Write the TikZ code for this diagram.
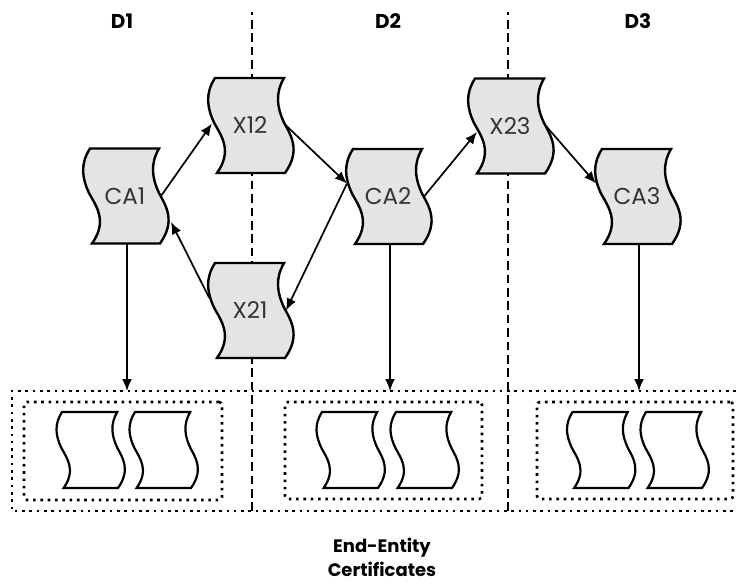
\documentclass[tikz,border=0pt]{standalone}
\usepackage{fontspec}
\setmainfont{Poppins}
\usetikzlibrary{arrows.meta}
\definecolor{sheetgray}{HTML}{E4E4E4}
\definecolor{labelgray}{HTML}{333333}

\tikzset{
    pics/sheet/.style={code={
        \draw[pic actions] (-35,-47.5) .. controls (-45,-32) and (-43,-18) .. (-36,-3)
            .. controls (-29,10) and (-17,25) .. (-33,47.5) -- (35,47.5)
            .. controls (51,25) and (41,10) .. (34,-3)
            .. controls (27,-18) and (25,-32) .. (34,-47.5) -- cycle;
        \node (-box) [sheetlabel] {#1};
        \coordinate (-e) at (36,0);
        \coordinate (-w) at (-38,-2);
        \coordinate (-wu) at (-41,-13);
        \coordinate (-wl) at (-33,6);
        \coordinate (-eb) at (46,26);
        \coordinate (-s) at (2,47.5);
    }},
    pics/sheet/.default={}
}

\begin{document}
\begin{tikzpicture}[
    x=1pt, y=-1pt,
    sheetlabel/.style={inner sep=0pt, font=\fontsize{23}{27}\selectfont, text=labelgray},
    casheet/.style={draw=black, fill=sheetgray, line width=2.4pt},
    leafsheet/.style={draw=black, fill=white, line width=2.2pt, scale=0.8},
    domlabel/.style={inner sep=0pt, font=\fontsize{20}{24}\selectfont\bfseries},
    divider/.style={draw=black, line width=2.7pt, dash pattern=on 8.6pt off 4.8pt, dash phase=5.4pt},
    dotbox/.style={draw=black, line width=2.6pt, dash pattern=on 2.6pt off 4.7pt, inner sep=0pt},
    link/.style={draw=black, line width=1.7pt, -{Latex[length=12pt,width=10pt]}}
]
\useasboundingbox (0,0) rectangle (738,583);

% domains
\node (d1) [domlabel] at (122,21) {D1};
\node (d2) [domlabel] at (388,21) {D2};
\node (d3) [domlabel] at (638,21) {D3};
\coordinate (top1) at (252,12);
\coordinate (top2) at (508,12);
\coordinate (bot1) at (252,511);
\coordinate (bot2) at (508,511);
\draw[divider] (top1) -- (bot1);
\draw[divider] (top2) -- (bot2);

% dotted boxes
\coordinate (outerne) at (736,391);
\coordinate (outernw) at (12,391);
\coordinate (outersw) at (12,511);
\coordinate (outerse) at (736,511);
\draw[dotbox] (outerne) -- (outernw) -- (outersw) -- (outerse);
\node (group1) [dotbox, rounded corners=3pt, minimum width=198pt, minimum height=98pt] at (123,451) {};
\node (group2) [dotbox, rounded corners=3pt, minimum width=197pt, minimum height=97pt] at (383.5,450.5) {};
\node (group3) [dotbox, rounded corners=3pt, minimum width=196pt, minimum height=97pt] at (635,450.5) {};

% certificates
\pic (ca1) [casheet] at (125,196) {sheet=CA1};
\pic (ca2) [casheet] at (388,196.5) {sheet=CA2};
\pic (ca3) [casheet] at (637,196.5) {sheet=CA3};
\pic (x12) [casheet] at (250,125.5) {sheet=X12};
\pic (x21) [casheet] at (250,310.5) {sheet=X21};
\pic (x23) [casheet] at (510,126) {sheet=X23};

\pic (ee1) [leafsheet] at (90,450) {sheet};
\pic (ee2) [leafsheet] at (163,450) {sheet};
\pic (ee3) [leafsheet] at (350,450) {sheet};
\pic (ee4) [leafsheet] at (424,450) {sheet};
\pic (ee5) [leafsheet] at (600.5,450) {sheet};
\pic (ee6) [leafsheet] at (674,450) {sheet};

\node (ee) [inner sep=0pt, align=center, font=\fontsize{18}{24}\selectfont\bfseries] at (382,557.5) {End-Entity\\Certificates};

\draw[link] (ca1-e) -- (x12-w);
\draw[link] (x12-e) -- (ca2-wu);
\draw[link] (ca2-wu) -- (x21-e);
\draw[link] (x21-wu) -- (ca1-eb);
\draw[link] (ca2-e) -- (x23-wl);
\draw[link] (x23-e) -- (ca3-wu);
\draw[link] (ca1-s) -- (ca1-s |- outerne);
\draw[link] (ca2-s) -- (ca2-s |- outerne);
\draw[link] (ca3-s) -- (ca3-s |- outerne);
\end{tikzpicture}
\end{document}
